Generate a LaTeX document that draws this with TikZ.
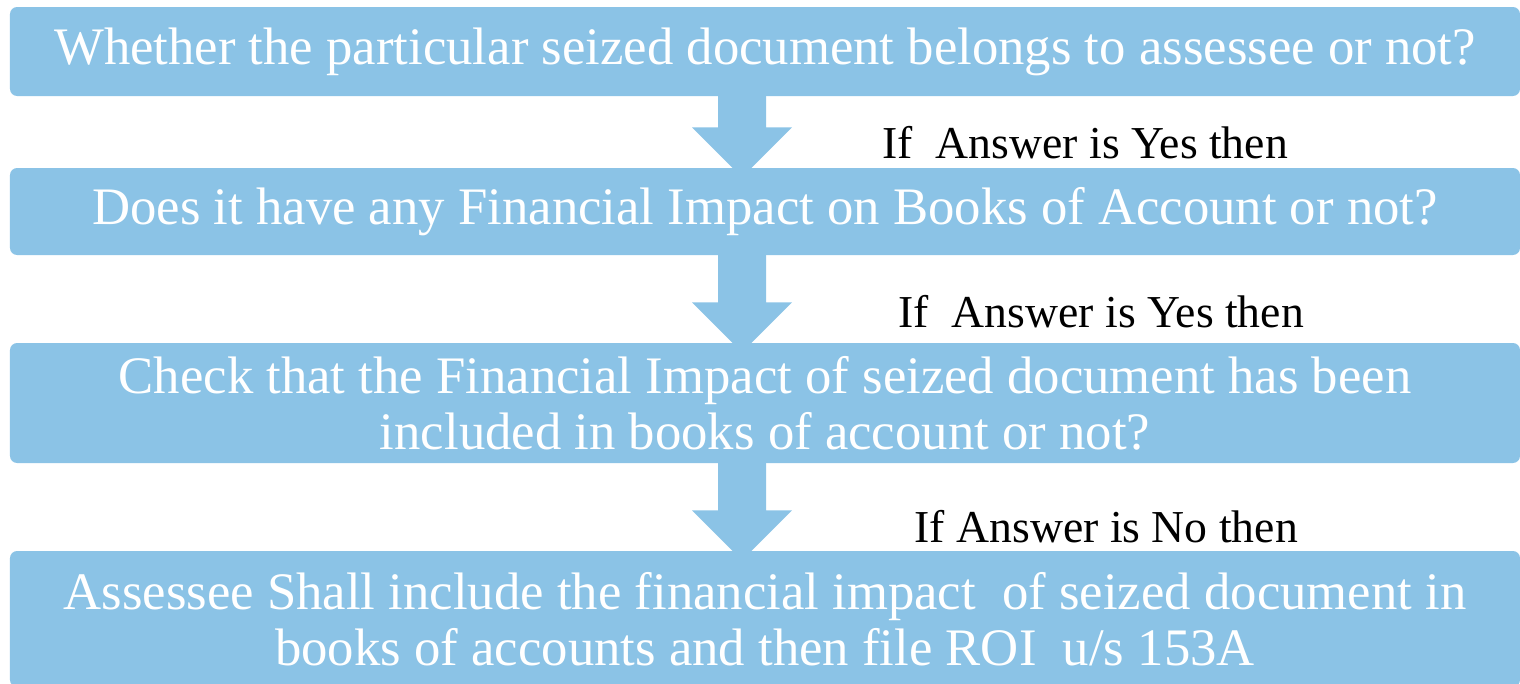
\documentclass[tikz,border=0pt]{standalone}
\usepackage{fontspec}
\setmainfont{Liberation Serif}
\usetikzlibrary{calc}

\definecolor{boxblue}{RGB}{139,195,230}

\tikzset{
  qbox/.style={fill=boxblue, rounded corners=2pt, inner sep=0pt,
    minimum width=15.1cm, text=white, align=center,
    font=\fontsize{15}{16}\selectfont},
  answer/.style={anchor=base west, inner sep=0pt,
    font=\fontsize{13}{14}\selectfont}
}

\begin{document}
\begin{tikzpicture}
    \useasboundingbox (0,0) rectangle (15.2,-6.84);

    % Cajas
    \node[qbox, minimum height=0.89cm] (q1) at (7.65,-0.515)
      {Whether the particular seized document belongs to assessee or not?};
    \node[qbox, minimum height=0.87cm] (q2) at (7.65,-2.115)
      {Does it have any Financial Impact on Books of Account or not?};
    \node[qbox, minimum height=1.20cm] (q3) at (7.65,-4.03)
      {Check that the Financial Impact of seized document has been\\
       included in books of account or not?};
    \node[qbox, minimum height=1.36cm] (act) at (7.65,-6.19)
      {Assessee Shall include the financial impact~~of seized document in\\
       books of accounts and then file ROI~~u/s 153A};

    % Flechas
    \foreach \a/\b in {q1/q2, q2/q3, q3/act} {
      \coordinate (t) at ($(\a.south)+(-0.23,0)$);
      \coordinate (h) at ($(\b.north)+(-0.23,0)$);
      \fill[boxblue] ($(t)+(-0.24,0.02)$) -- ($(h)+(-0.24,0.40)$)
        -- ($(h)+(-0.50,0.40)$) -- ($(h)+(0,-0.10)$)
        -- ($(h)+(0.50,0.40)$) -- ($(h)+(0.24,0.40)$)
        -- ($(t)+(0.24,0.02)$) -- cycle;
    }

    % Respuestas
    \node[answer] (a1) at (8.82,-1.58) {If~~Answer is Yes then};
    \node[answer] (a2) at (8.98,-3.27) {If~~Answer is Yes then};
    \node[answer] (a3) at (9.14,-5.42) {If Answer is No then};

\end{tikzpicture}
\end{document}
